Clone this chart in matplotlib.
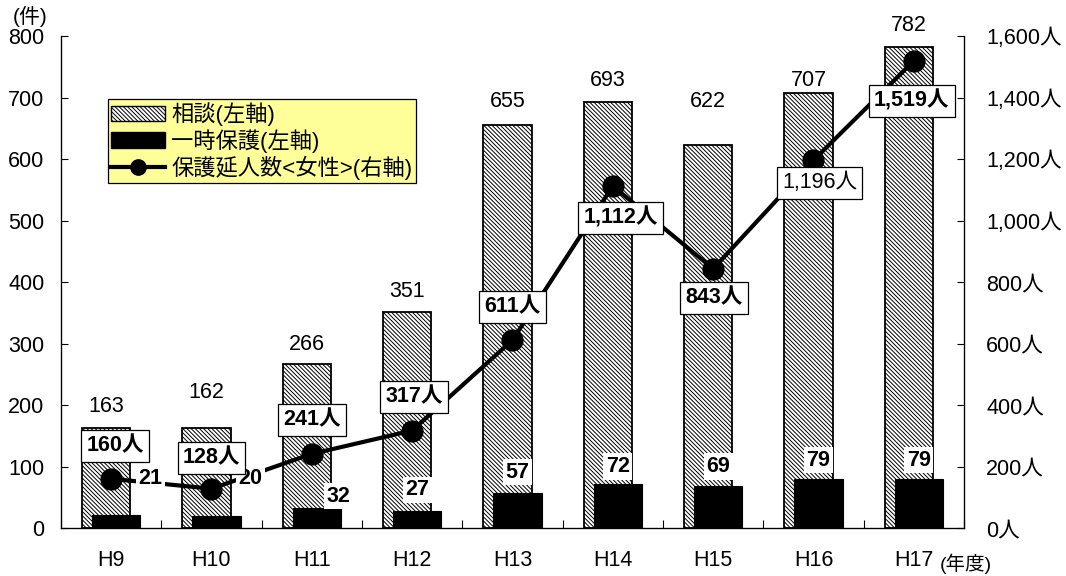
import numpy as np
import matplotlib.pyplot as plt
import matplotlib as mpl
from matplotlib.lines import Line2D
from matplotlib.patches import Patch

plt.rcParams['font.family'] = ['Liberation Sans', 'Noto Sans CJK JP', 'DejaVu Sans']
mpl.rcParams['hatch.linewidth'] = 0.7

# data
years = ['H9', 'H10', 'H11', 'H12', 'H13', 'H14', 'H15', 'H16', 'H17']
consult = [163, 162, 266, 351, 655, 693, 622, 707, 782]
shelter = [21, 20, 32, 27, 57, 72, 69, 79, 79]
women_days = [160, 128, 241, 317, 611, 1112, 843, 1196, 1519]

# label placement (left-axis units for bars, right-axis units for the line)
consult_lab_y = [197, 220, 298, 384, 693, 728, 693, 728, 817]
shelter_lab_dx = [0.34, 0.34, 0.22, 0.0, 0.0, 0.0, 0.0, 0.0, 0.0]
shelter_lab_y = [81, 81, 52, 62, 91, 100, 100, 110, 110]
women_lab_dx = [0.04, 0.0, 0.0, 0.02, 0.0, 0.08, 0.01, 0.06, -0.02]
women_lab_y = [267, 228, 351, 426, 719, 1008, 748, 1122, 1389]
women_bold = [True] * 7 + [False, True]

x = np.arange(len(years))
w = 0.48
off = 0.05
fs = 15.5

fig = plt.figure(figsize=(10.66, 5.76), dpi=100)
ax = fig.add_axes([0.0572, 0.0833, 0.8471, 0.8542])
ax2 = ax.twinx()

ax.bar(x - off, consult, w, color='white', edgecolor='black', linewidth=1.3,
       hatch='\\' * 8, zorder=2)
ax.bar(x + off, shelter, w, color='black', edgecolor='black', linewidth=0.8, zorder=3)

ax.set_xlim(-0.5, len(years) - 0.5)
ax.set_ylim(0, 800)
ax.set_yticks(range(0, 801, 100))
ax.set_xticks(x)
ax.set_xticklabels(years, fontsize=fs)
ax.set_xticks(np.arange(-0.5, len(years)), minor=True)
ax.tick_params(axis='x', which='major', length=0, pad=16)
ax.tick_params(axis='x', which='minor', direction='in', length=6, width=0.8)
ax.tick_params(axis='y', direction='in', length=5, width=0.8, labelsize=fs, pad=12)
ax.spines['top'].set_visible(False)
for s in ['left', 'bottom']:
    ax.spines[s].set_linewidth(0.9)

for xi, v, ly in zip(x, consult, consult_lab_y):
    ax.text(xi - off, ly, str(v), ha='center', va='center', fontsize=fs, zorder=6)

ax2.plot(x, women_days, color='black', linewidth=3, marker='o', markersize=15, zorder=4)
ax2.set_ylim(0, 1600)
ax2.set_yticks(range(0, 1601, 200))
ax2.set_yticklabels([f'{v:,}人' for v in range(0, 1601, 200)])
ax2.tick_params(axis='y', direction='in', length=5, width=0.8, labelsize=fs, pad=16)
ax2.spines['top'].set_visible(False)
ax2.spines['right'].set_linewidth(0.9)

# shelter labels sit above the line, drawn in left-axis coordinates
for xi, v, dx, ly in zip(x, shelter, shelter_lab_dx, shelter_lab_y):
    ax2.text(xi + off + dx, ly, str(v), transform=ax.transData, ha='center',
             va='center', fontsize=fs, fontweight='bold', zorder=6,
             bbox=dict(boxstyle='square,pad=0.12', fc='white', ec='none'))

for xi, v, dx, ly, b in zip(x, women_days, women_lab_dx, women_lab_y, women_bold):
    ax2.text(xi + dx, ly, f'{v:,}人', ha='center', va='center', fontsize=fs,
             fontweight='bold' if b else 'normal', zorder=7,
             bbox=dict(boxstyle='square,pad=0.24', fc='white', ec='black', lw=0.9))

ax.set_zorder(0)
ax2.set_zorder(1)
ax2.patch.set_visible(False)

handles = [
    Patch(facecolor='white', edgecolor='black', hatch='\\' * 8, linewidth=1),
    Patch(facecolor='black', edgecolor='black'),
    Line2D([0], [0], color='black', linewidth=3, marker='o', markersize=11),
]
labels = ['相談(左軸)', '一時保護(左軸)', '保護延人数<女性>(右軸)']
leg = ax2.legend(handles, labels, loc='upper left', bbox_to_anchor=(0.052, 0.872),
                 fontsize=16, frameon=True, fancybox=False, framealpha=1,
                 facecolor='#FFFF99', edgecolor='black', borderpad=0.15,
                 labelspacing=0.14, handlelength=2.4, handletextpad=0.3,
                 borderaxespad=0)
leg.get_frame().set_linewidth(0.9)
leg.set_zorder(10)

fig.text(0.012, 0.972, '(件)', fontsize=15, ha='left', va='center')
fig.text(0.882, 0.022, '(年度)', fontsize=14, ha='left', va='center')

fig.savefig('out.png', dpi=100)
